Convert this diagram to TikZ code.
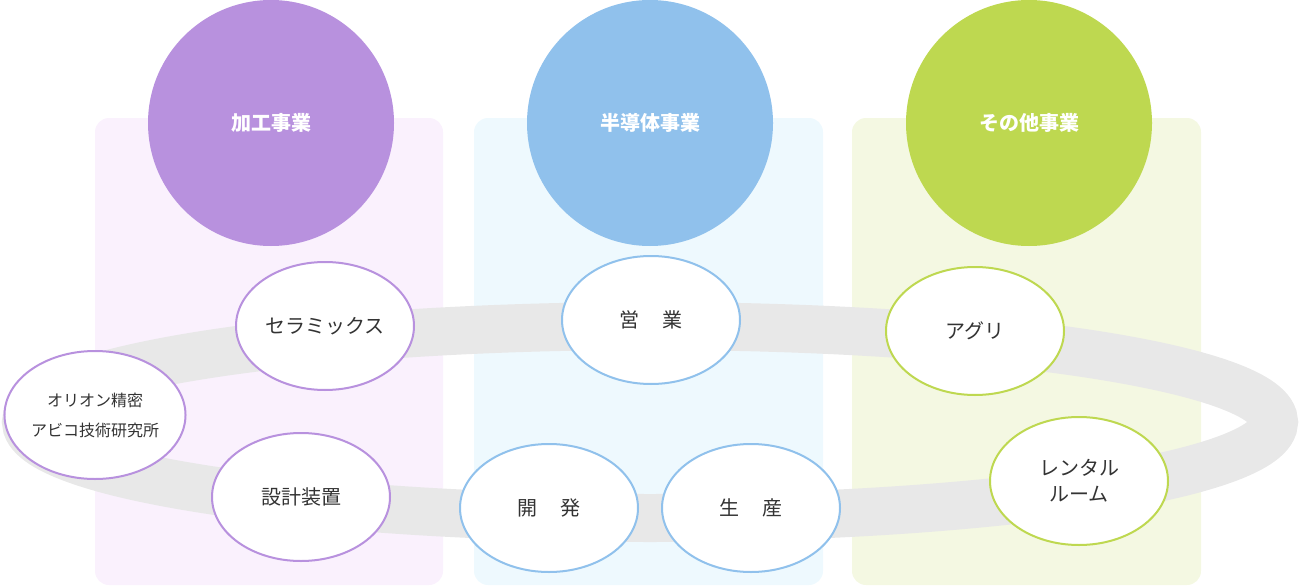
\documentclass[tikz,border=0pt]{standalone}
\usepackage{fontspec}
\usetikzlibrary{shapes.geometric}
\setmainfont{Noto Sans CJK JP}
\definecolor{pu}{HTML}{B891DE}\definecolor{bl}{HTML}{90C1EC}\definecolor{gr}{HTML}{BED850}
\definecolor{pup}{HTML}{FAF1FD}\definecolor{blp}{HTML}{EEF9FE}\definecolor{grp}{HTML}{F4F8E2}
\definecolor{ring}{HTML}{E8E8E8}\definecolor{tx}{HTML}{333333}
\begin{document}
\begin{tikzpicture}[x=1pt,y=-1pt,
 panel/.style={rounded corners=14pt},
 big/.style={circle,minimum size=246pt,inner sep=0pt,text=white,font=\bfseries\fontsize{20}{24}\selectfont},
 small/.style={ellipse,draw,line width=2pt,fill=white,minimum width=178pt,minimum height=128pt,inner sep=0pt,text=tx,font=\fontsize{20}{26}\selectfont,align=center}]
\useasboundingbox (0,0) rectangle (1301,586);
\fill[pup,panel] (95,118) rectangle (443,585);
\fill[blp,panel] (474,118) rectangle (823,585);
\fill[grp,panel] (852,118) rectangle (1201,585);
\draw[ring,line width=48pt] (650,422) ellipse [x radius=624pt, y radius=96pt];
\node[big,fill=pu] (a) at (271,123) {加工事業};
\node[big,fill=bl] (b) at (650,123) {半導体事業};
\node[big,fill=gr] (c) at (1029,123) {その他事業};
\node[small,draw=pu] (s1) at (325,326) {セラミックス};
\node[small,draw=pu,font=\fontsize{16}{30}\selectfont] (s2) at (95,415) {オリオン精密\\アビコ技術研究所};
\node[small,draw=pu] (s3) at (301,497) {設計装置};
\node[small,draw=bl] (s4) at (651,320) {営\hspace{1.2em}業};
\node[small,draw=bl] (s5) at (549,508) {開\hspace{1.2em}発};
\node[small,draw=bl] (s6) at (751,508) {生\hspace{1.2em}産};
\node[small,draw=gr] (s7) at (975,331) {アグリ};
\node[small,draw=gr] (s8) at (1079,481) {レンタル\\ルーム};
\end{tikzpicture}
\end{document}
